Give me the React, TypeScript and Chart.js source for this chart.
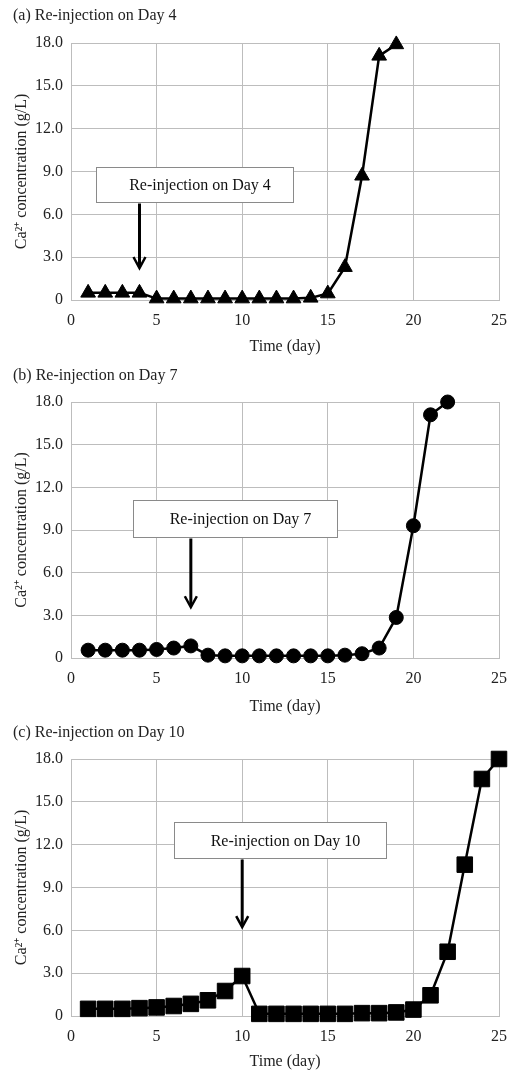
import React, { useEffect, useRef } from 'react';
import { Chart, registerables } from 'chart.js';

Chart.register(...registerables);

// ---- data ----
const xTickLabels = ['0', '5', '10', '15', '20', '25'];
const yTickLabels = ['0', '3.0', '6.0', '9.0', '12.0', '15.0', '18.0'];

const daysA = [1, 2, 3, 4, 5, 6, 7, 8, 9, 10, 11, 12, 13, 14, 15, 16, 17, 18, 19];
const valuesA = [0.5, 0.5, 0.5, 0.5, 0.1, 0.1, 0.1, 0.1, 0.1, 0.1, 0.1, 0.1, 0.1, 0.15, 0.45, 2.3, 8.7, 17.1, 17.9];

const daysB = [1, 2, 3, 4, 5, 6, 7, 8, 9, 10, 11, 12, 13, 14, 15, 16, 17, 18, 19, 20, 21, 22];
const valuesB = [0.55, 0.55, 0.55, 0.55, 0.6, 0.7, 0.85, 0.2, 0.15, 0.15, 0.15, 0.15, 0.15, 0.15, 0.15, 0.2, 0.3, 0.7, 2.85, 9.3, 17.1, 18.0];

const daysC = [1, 2, 3, 4, 5, 6, 7, 8, 9, 10, 11, 12, 13, 14, 15, 16, 17, 18, 19, 20, 21, 22, 23, 24, 25];
const valuesC = [0.5, 0.5, 0.5, 0.55, 0.6, 0.7, 0.85, 1.1, 1.75, 2.8, 0.15, 0.15, 0.15, 0.15, 0.15, 0.15, 0.2, 0.2, 0.25, 0.45, 1.45, 4.5, 10.6, 16.6, 18.0];

const panelTitles = ['(a) Re-injection on Day 4', '(b) Re-injection on Day 7', '(c) Re-injection on Day 10'];
const calloutTexts = ['Re-injection on Day 4', 'Re-injection on Day 7', 'Re-injection on Day 10'];
const reinjectionDays = [4, 7, 10];

const FONT = "'Liberation Serif', 'Times New Roman', serif";
const TEXT = '#222222';
const GRID = '#bdbdbd';

const calloutPlugin = {
  id: 'callout',
  afterDraw(chart: any, _args: any, opts: any) {
    if (!opts || opts.text == null) return;
    const { ctx } = chart;
    const xs = chart.scales.x;
    const ys = chart.scales.y;
    const left = Math.round(xs.getPixelForValue(opts.x0)) + 0.5;
    const right = Math.round(xs.getPixelForValue(opts.x1)) + 0.5;
    const top = Math.round(ys.getPixelForValue(opts.yTop)) + 0.5;
    const bottom = Math.round(ys.getPixelForValue(opts.yBottom)) + 0.5;
    ctx.save();
    ctx.fillStyle = '#ffffff';
    ctx.fillRect(left, top, right - left, bottom - top);
    ctx.strokeStyle = '#8a8a8a';
    ctx.lineWidth = 1;
    ctx.strokeRect(left, top, right - left, bottom - top);
    ctx.fillStyle = '#111111';
    ctx.font = `16px ${FONT}`;
    ctx.textAlign = 'center';
    ctx.textBaseline = 'middle';
    ctx.fillText(opts.text, (left + right) / 2 + 5, (top + bottom) / 2 + 1);
    // arrow
    const ax = xs.getPixelForValue(opts.arrowDay);
    const tipY = ys.getPixelForValue(opts.arrowTip);
    ctx.strokeStyle = '#000000';
    ctx.lineWidth = 3;
    ctx.beginPath();
    ctx.moveTo(ax, bottom + 1);
    ctx.lineTo(ax, tipY - 2);
    ctx.stroke();
    ctx.lineWidth = 2.5;
    ctx.lineJoin = 'miter';
    ctx.beginPath();
    ctx.moveTo(ax - 6, tipY - 11);
    ctx.lineTo(ax, tipY);
    ctx.lineTo(ax + 6, tipY - 11);
    ctx.stroke();
    ctx.restore();
  },
};

type PanelProps = {
  days: number[];
  values: number[];
  pointStyle: string;
  radius: number;
  height: number;
  padTop: number;
  xAxisHeight: number;
  callout: any;
};

function Panel(p: PanelProps) {
  const ref = useRef<HTMLCanvasElement>(null);
  useEffect(() => {
    const canvas = ref.current!;
    const chart = new Chart(canvas, {
      type: 'line',
      data: {
        datasets: [
          {
            data: p.days.map((d, i) => ({ x: d, y: p.values[i] })),
            borderColor: '#000000',
            backgroundColor: '#000000',
            borderWidth: 2.5,
            pointStyle: p.pointStyle as any,
            pointRadius: p.radius,
            pointBorderWidth: 1,
            pointBorderColor: '#000000',
            pointBackgroundColor: '#000000',
            tension: 0,
            clip: false as any,
          },
        ],
      },
      plugins: [calloutPlugin as any],
      options: {
        responsive: false,
        animation: false,
        devicePixelRatio: 1,
        layout: { autoPadding: false, padding: { top: p.padTop, right: 10, left: 0, bottom: 0 } },
        plugins: {
          legend: { display: false },
          tooltip: { enabled: false },
          title: { display: false },
          callout: p.callout,
        } as any,
        scales: {
          x: {
            type: 'linear',
            min: 0,
            max: 25,
            afterFit: (s: any) => {
              s.height = p.xAxisHeight;
              s.paddingRight = 0;
              s.paddingLeft = 0;
            },
            ticks: {
              stepSize: 5,
              color: TEXT,
              font: { family: FONT, size: 16 },
              padding: 11,
              maxRotation: 0,
              callback: (_v: any, i: number) => xTickLabels[i],
            },
            grid: { color: GRID, lineWidth: 1, drawTicks: false },
            border: { display: true, color: GRID, width: 1 },
            title: {
              display: true,
              text: 'Time (day)',
              color: TEXT,
              font: { family: FONT, size: 16 },
              padding: { top: 0, bottom: 4 },
            },
          },
          y: {
            type: 'linear',
            min: 0,
            max: 18,
            afterFit: (s: any) => {
              s.width = 71;
            },
            ticks: {
              stepSize: 3,
              color: TEXT,
              font: { family: FONT, size: 16 },
              padding: 8,
              callback: (_v: any, i: number) => yTickLabels[i],
            },
            grid: { color: GRID, lineWidth: 1, drawTicks: false },
            border: { display: true, color: GRID, width: 1 },
            title: {
              display: true,
              text: 'Ca²⁺ concentration (g/L)',
              color: TEXT,
              font: { family: FONT, size: 16 },
              padding: { top: 12, bottom: 0 },
            },
          },
        },
      } as any,
    });
    return () => chart.destroy();
  }, []);
  return <canvas ref={ref} width={509} height={p.height} style={{ display: 'block', width: 509, height: p.height }} />;
}

export default function App() {
  const titleStyle: React.CSSProperties = {
    position: 'absolute',
    left: 13,
    fontFamily: FONT,
    fontSize: 16,
    color: TEXT,
    lineHeight: '18px',
    whiteSpace: 'nowrap',
  };
  return (
    <div style={{ position: 'absolute', left: 0, top: 0, width: 509, height: 1075, background: '#ffffff' }}>
      <div style={{ position: 'absolute', left: 0, top: 0 }}>
        <Panel
          days={daysA}
          values={valuesA}
          pointStyle="triangle"
          radius={8.5}
          height={360}
          padTop={43}
          xAxisHeight={60}
          callout={{ text: calloutTexts[0], x0: 1.46, x1: 12.97, yTop: 9.3, yBottom: 6.86, arrowDay: reinjectionDays[0], arrowTip: 2.24 }}
        />
      </div>
      <div style={{ position: 'absolute', left: 0, top: 360 }}>
        <Panel
          days={daysB}
          values={valuesB}
          pointStyle="circle"
          radius={7}
          height={360}
          padTop={42}
          xAxisHeight={62}
          callout={{ text: calloutTexts[1], x0: 3.62, x1: 15.54, yTop: 11.1, yBottom: 8.54, arrowDay: reinjectionDays[1], arrowTip: 3.57 }}
        />
      </div>
      <div style={{ position: 'absolute', left: 0, top: 720 }}>
        <Panel
          days={daysC}
          values={valuesC}
          pointStyle="rect"
          radius={11}
          height={355}
          padTop={39}
          xAxisHeight={59}
          callout={{ text: calloutTexts[2], x0: 6.02, x1: 18.4, yTop: 13.6, yBottom: 11.1, arrowDay: reinjectionDays[2], arrowTip: 6.23 }}
        />
      </div>
      <div style={{ ...titleStyle, top: 6 }}>{panelTitles[0]}</div>
      <div style={{ ...titleStyle, top: 366 }}>{panelTitles[1]}</div>
      <div style={{ ...titleStyle, top: 723 }}>{panelTitles[2]}</div>
    </div>
  );
}
